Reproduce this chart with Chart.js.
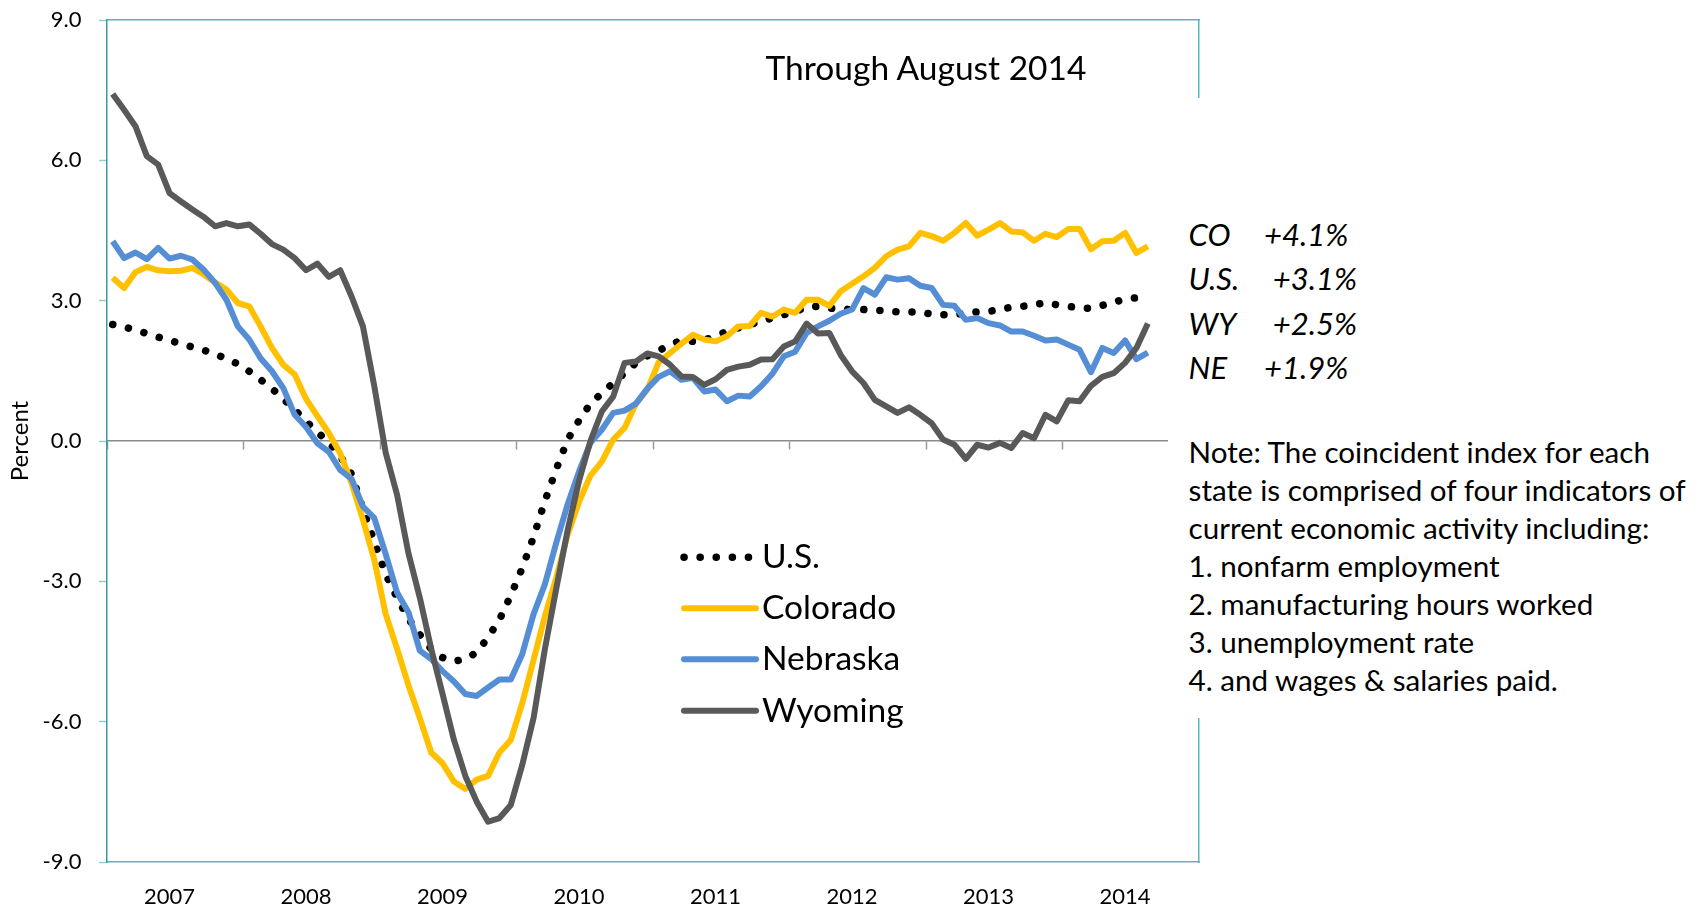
<!DOCTYPE html>
<html>
<head>
<meta charset="utf-8">
<title>Coincident index</title>
<script src="https://cdn.jsdelivr.net/npm/chart.js@4.4.1/dist/chart.umd.min.js"></script>
<style>
	html, body { margin: 0; padding: 0; background: #fff; }
	#wrap { position: relative; width: 1700px; height: 909px; overflow: hidden; }
	#chart { position: absolute; left: 0; top: 0; }
	.txt { position: absolute; font-family: Lato, sans-serif; color: #000; white-space: nowrap; }
	#title { left: 726px; top: 47px; width: 400px; text-align: center; font-size: 33.5px; line-height: 40px; }
	#notebox { position: absolute; left: 1168px; top: 98px; width: 532px; height: 620px; background: #fff; }
	#growth { left: 1188.6px; top: 212px; font-size: 31px; line-height: 44.4px; font-style: italic; }
	#growth span { display: inline-block; }
	#note { left: 1188.6px; top: 432.5px; font-size: 29.6px; line-height: 38px; }
</style>
</head>
<body>
<div id="wrap">
	<canvas id="chart" width="1700" height="909"></canvas>
	<div class="txt" id="title">Through August 2014</div>
	<div id="notebox"></div>
	<div class="txt" id="growth"></div>
	<div class="txt" id="note">Note: The coincident index for each<br>state is comprised of four indicators of<br>current economic activity including:<br>1. nonfarm employment<br>2. manufacturing hours worked<br>3. unemployment rate<br>4. and wages &amp; salaries paid.</div>
</div>
<script>
// year-over-year change, monthly Jan 2007 - Aug 2014
var years = ['2007', '2008', '2009', '2010', '2011', '2012', '2013', '2014'];
var monthNames = ['Jan', 'Feb', 'Mar', 'Apr', 'May', 'Jun', 'Jul', 'Aug', 'Sep', 'Oct', 'Nov', 'Dec'];
var yTicks = [-9, -6, -3, 0, 3, 6, 9];

var seriesNames = ['U.S.', 'Colorado', 'Nebraska', 'Wyoming'];
var seriesColors = ['#000000', '#FFC000', '#558ED5', '#595959'];

var usIndex = [
	2.49, 2.44, 2.37, 2.30, 2.22, 2.15, 2.08, 2.01, 1.94, 1.87, 1.75, 1.65,
	1.49, 1.31, 1.12, 0.90, 0.67, 0.42, 0.19, -0.03, -0.32, -0.71, -1.45, -2.15,
	-2.85, -3.35, -3.80, -4.14, -4.45, -4.63, -4.71, -4.66, -4.52, -4.20, -3.82, -3.30,
	-2.72, -2.05, -1.28, -0.60, 0.03, 0.44, 0.80, 1.02, 1.24, 1.45, 1.67, 1.82,
	1.93, 2.06, 2.15, 2.13, 2.15, 2.25, 2.34, 2.42, 2.49, 2.56, 2.63, 2.70,
	2.77, 2.86, 2.88, 2.84, 2.82, 2.81, 2.81, 2.79, 2.79, 2.76, 2.76, 2.76,
	2.71, 2.70, 2.70, 2.74, 2.76, 2.77, 2.81, 2.86, 2.88, 2.91, 2.96, 2.91,
	2.88, 2.84, 2.84, 2.90, 2.96, 3.04, 3.06, 3.08
];
var colorado = [
	3.49, 3.27, 3.61, 3.72, 3.65, 3.63, 3.64, 3.70, 3.56, 3.39, 3.24, 2.95,
	2.88, 2.45, 1.99, 1.63, 1.42, 0.90, 0.53, 0.17, -0.26, -0.90, -1.68, -2.54,
	-3.70, -4.44, -5.22, -5.92, -6.66, -6.89, -7.28, -7.44, -7.24, -7.16, -6.66, -6.39,
	-5.61, -4.68, -3.74, -2.92, -2.00, -1.30, -0.74, -0.44, 0.03, 0.28, 0.80, 1.10,
	1.68, 1.88, 2.08, 2.27, 2.17, 2.13, 2.24, 2.45, 2.46, 2.74, 2.66, 2.81,
	2.74, 3.02, 3.02, 2.89, 3.20, 3.36, 3.52, 3.70, 3.95, 4.09, 4.16, 4.45,
	4.38, 4.28, 4.45, 4.66, 4.39, 4.52, 4.66, 4.48, 4.46, 4.28, 4.43, 4.36,
	4.53, 4.53, 4.10, 4.27, 4.28, 4.45, 4.02, 4.16
];
var nebraska = [
	4.27, 3.91, 4.03, 3.89, 4.13, 3.90, 3.96, 3.88, 3.66, 3.38, 3.02, 2.45,
	2.17, 1.77, 1.49, 1.13, 0.56, 0.30, -0.05, -0.23, -0.62, -0.81, -1.40, -1.65,
	-2.42, -3.24, -3.66, -4.48, -4.66, -4.92, -5.14, -5.41, -5.45, -5.27, -5.10, -5.10,
	-4.56, -3.70, -3.06, -2.17, -1.35, -0.65, -0.04, 0.24, 0.60, 0.65, 0.80, 1.12,
	1.37, 1.49, 1.31, 1.35, 1.06, 1.10, 0.85, 0.97, 0.95, 1.17, 1.44, 1.81,
	1.91, 2.31, 2.45, 2.57, 2.72, 2.81, 3.27, 3.13, 3.50, 3.45, 3.48, 3.32,
	3.27, 2.91, 2.89, 2.59, 2.63, 2.52, 2.47, 2.34, 2.34, 2.25, 2.15, 2.17,
	2.06, 1.95, 1.47, 1.99, 1.88, 2.15, 1.75, 1.89
];
var wyoming = [
	7.42, 7.08, 6.73, 6.09, 5.91, 5.30, 5.12, 4.95, 4.79, 4.59, 4.66, 4.59,
	4.63, 4.43, 4.21, 4.09, 3.91, 3.65, 3.79, 3.51, 3.65, 3.09, 2.45, 1.17,
	-0.25, -1.15, -2.40, -3.35, -4.44, -5.41, -6.39, -7.16, -7.71, -8.14, -8.06, -7.78,
	-6.93, -5.92, -4.44, -3.15, -1.90, -0.85, 0.00, 0.63, 0.95, 1.67, 1.70, 1.87,
	1.81, 1.63, 1.38, 1.37, 1.20, 1.32, 1.52, 1.59, 1.63, 1.74, 1.75, 2.02,
	2.13, 2.51, 2.30, 2.31, 1.84, 1.49, 1.24, 0.88, 0.74, 0.60, 0.72, 0.56,
	0.38, 0.03, -0.08, -0.38, -0.08, -0.14, -0.04, -0.15, 0.17, 0.06, 0.56, 0.42,
	0.87, 0.85, 1.18, 1.37, 1.45, 1.67, 1.99, 2.51
];

// latest readings shown at the right
var growthLabels = ['CO', 'U.S.', 'WY', 'NE'];
var growthValues = ['+4.1%', '+3.1%', '+2.5%', '+1.9%'];

var teal = '#3B9C9C';
var tealLight = '#5DB5B5';

var months = [];
years.forEach(function (y) {
	monthNames.forEach(function (m) {
		months.push(m + ' ' + y);
	});
});

growthText();

function growthText() {
	var pad = [75.4, 84.2, 84.2, 75.4];
	var html = '';
	growthLabels.forEach(function (l, i) {
		html += '<div><span style="width:' + pad[i] + 'px">' + l + '</span><span>' + growthValues[i] + '</span></div>';
	});
	document.getElementById('growth').innerHTML = html;
}

var legendInside = {
	id: 'legendInside',
	afterDraw: function (chart) {
		var ctx = chart.ctx;
		var x0 = 684, x1 = 756, tx = 762;
		var ys = [557.3, 608.3, 659.3, 710.7];
		ctx.save();
		seriesNames.forEach(function (name, i) {
			var ds = chart.data.datasets[i];
			ctx.beginPath();
			ctx.strokeStyle = ds.borderColor;
			ctx.lineWidth = ds.borderWidth;
			ctx.lineCap = 'round';
			ctx.setLineDash(ds.borderDash || []);
			ctx.moveTo(x0, ys[i]);
			ctx.lineTo(x1, ys[i]);
			ctx.stroke();
			ctx.setLineDash([]);
			ctx.fillStyle = '#000';
			ctx.font = '33.5px Lato';
			ctx.textBaseline = 'alphabetic';
			ctx.fillText(name, tx, ys[i] + 11);
		});
		ctx.restore();
	}
};

function noPad(s) {
	s.paddingTop = 0;
	s.paddingBottom = 0;
	s.paddingLeft = 0;
	s.paddingRight = 0;
}

Chart.defaults.font.family = 'Lato';
Chart.defaults.color = '#000';

new Chart(document.getElementById('chart').getContext('2d'), {
	type: 'line',
	data: {
		labels: months,
		datasets: [
			{ label: seriesNames[0], data: usIndex, borderColor: seriesColors[0], borderWidth: 7.5, borderDash: [0.1, 16], borderCapStyle: 'round', order: 4 },
			{ label: seriesNames[1], data: colorado, borderColor: seriesColors[1], borderWidth: 6, order: 3 },
			{ label: seriesNames[2], data: nebraska, borderColor: seriesColors[2], borderWidth: 6, order: 2 },
			{ label: seriesNames[3], data: wyoming, borderColor: seriesColors[3], borderWidth: 6, order: 1 }
		].map(function (d) {
			d.xAxisID = 'x';
			d.yAxisID = 'y';
			d.pointRadius = 0;
			d.tension = 0;
			d.fill = false;
			d.borderJoinStyle = 'round';
			return d;
		})
	},
	options: {
		responsive: false,
		animation: false,
		layout: { padding: { top: 20, right: 501, bottom: 0, left: 0 } },
		plugins: { legend: { display: false }, tooltip: { enabled: false } },
		scales: {
			x: {
				type: 'category',
				position: 'bottom',
				offset: true,
				grid: { display: false, drawTicks: false },
				border: { display: true, color: tealLight, width: 1.5 },
				ticks: {
					autoSkip: false,
					maxRotation: 0,
					padding: 22,
					font: { size: 22 },
					callback: function (v, i) {
						return i % 12 === 5 ? years[Math.floor(i / 12)] : '';
					}
				},
				afterFit: function (s) { noPad(s); s.height = 47; }
			},
			xTop: {
				type: 'category',
				position: 'top',
				offset: true,
				grid: { display: false, drawTicks: false },
				border: { display: true, color: tealLight, width: 1.5 },
				ticks: { display: false },
				afterFit: function (s) { noPad(s); s.height = 0; }
			},
			x0: {
				type: 'category',
				position: { y: 0 },
				offset: true,
				grid: {
					display: true,
					offset: true,
					drawOnChartArea: false,
					drawTicks: true,
					tickLength: 8,
					tickWidth: 1.5,
					tickColor: function (c) {
						return (c.index === undefined || c.index % 12 === 0) ? '#9A9A9A' : 'rgba(0,0,0,0)';
					}
				},
				border: { display: true, color: '#8C8C8C', width: 1.5 },
				ticks: { display: false, autoSkip: false },
				afterFit: noPad
			},
			y: {
				type: 'linear',
				position: 'left',
				min: yTicks[0],
				max: yTicks[yTicks.length - 1],
				afterBuildTicks: function (s) {
					s.ticks = yTicks.map(function (v) { return { value: v }; });
				},
				grid: {
					display: true,
					drawOnChartArea: false,
					drawTicks: true,
					tickLength: 8,
					tickWidth: 1.5,
					tickColor: '#8ECFCF'
				},
				border: { display: true, color: teal, width: 1.5 },
				ticks: {
					padding: 17.5,
					font: { size: 22 },
					callback: function (v) { return v.toFixed(1); }
				},
				title: {
					display: true,
					text: 'Percent',
					font: { size: 24 },
					padding: { top: 6, bottom: 0 }
				},
				afterFit: function (s) { noPad(s); s.width = 107; }
			},
			yRight: {
				type: 'linear',
				position: 'right',
				min: yTicks[0],
				max: yTicks[yTicks.length - 1],
				grid: { display: false, drawTicks: false },
				border: { display: true, color: tealLight, width: 1.5 },
				ticks: { display: false },
				afterFit: function (s) { noPad(s); s.width = 0; }
			}
		}
	},
	plugins: [legendInside]
});
</script>
</body>
</html>
